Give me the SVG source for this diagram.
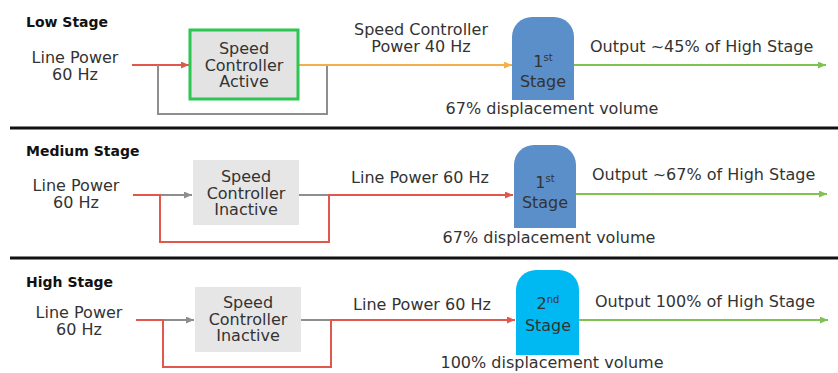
<svg xmlns="http://www.w3.org/2000/svg" width="838" height="373" viewBox="0 0 838 373">
<defs>
<style>
text{font-family:"DejaVu Sans","Liberation Sans",sans-serif;font-size:16px;fill:#333;}
.t{font-weight:bold;font-size:14px;fill:#111;}
.c{text-anchor:middle;}
.sup{font-size:10px;}
.red{stroke:#e0584b;stroke-width:2;fill:none;}
.gray{stroke:#8e8e8e;stroke-width:2;fill:none;}
.org{stroke:#f3b04a;stroke-width:2;fill:none;}
.grn{stroke:#80c251;stroke-width:2;fill:none;}
.sep{stroke:#111;stroke-width:3;}
.box{fill:#e6e6e6;}
</style>
<marker id="aR" markerUnits="userSpaceOnUse" markerWidth="8" markerHeight="7" refX="8" refY="3.5" orient="auto"><path d="M0,0 L8,3.5 L0,7 z" fill="#e0584b"/></marker>
<marker id="aG" markerUnits="userSpaceOnUse" markerWidth="8" markerHeight="7" refX="8" refY="3.5" orient="auto"><path d="M0,0 L8,3.5 L0,7 z" fill="#8e8e8e"/></marker>
<marker id="aO" markerUnits="userSpaceOnUse" markerWidth="8" markerHeight="7" refX="8" refY="3.5" orient="auto"><path d="M0,0 L8,3.5 L0,7 z" fill="#f3b04a"/></marker>
<marker id="aN" markerUnits="userSpaceOnUse" markerWidth="8" markerHeight="7" refX="8" refY="3.5" orient="auto"><path d="M0,0 L8,3.5 L0,7 z" fill="#80c251"/></marker>
</defs>
<rect width="838" height="373" fill="#fff"/>
<g id="separators">
<line class="sep" x1="10" y1="128" x2="838" y2="128"/>
<line class="sep" x1="10" y1="258" x2="838" y2="258"/>
</g>
<g id="connectors">
<path class="red" d="M132,65 H189" marker-end="url(#aR)"/>
<path class="gray" d="M158,65 V114 H327 V65"/>
<path class="org" d="M299,65 H512" marker-end="url(#aO)"/>
<path class="grn" d="M574,65 H826" marker-end="url(#aN)"/>
<path class="gray" d="M160,195 H192" marker-end="url(#aG)"/>
<path class="gray" d="M299,195 H329"/>
<path class="red" d="M133,195 H160 V242 H329 V195 H513" marker-end="url(#aR)"/>
<path class="grn" d="M576,194 H827" marker-end="url(#aN)"/>
<path class="gray" d="M163,320 H194" marker-end="url(#aG)"/>
<path class="gray" d="M301,320 H331"/>
<path class="red" d="M136,320 H163 V367 H331 V320 H515" marker-end="url(#aR)"/>
<path class="grn" d="M579,320 H828" marker-end="url(#aN)"/>
</g>
<g id="low">
<text class="t" x="26" y="27">Low Stage</text>
<g id="low-input"><text class="c" x="75" y="63">Line Power</text><text class="c" x="75" y="80">60 Hz</text></g>
<g id="low-controller">
<rect x="190" y="30" width="108" height="69" fill="#e3e3e3" stroke="#2dc653" stroke-width="3"/>
<text class="c" x="244" y="54">Speed</text><text class="c" x="244" y="71">Controller</text><text class="c" x="244" y="87">Active</text>
</g>
<text class="c" x="421" y="35">Speed Controller</text><text class="c" x="421" y="52">Power 40 Hz</text>
<g id="low-stage">
<path d="M512,100 V37 A20,20 0 0 1 532,17 H554 A20,20 0 0 1 574,37 V100 Z" fill="#5b8fc9"/>
<text class="c" x="543" y="67" fill="#222">1<tspan class="sup" dy="-6">st</tspan></text>
<text class="c" x="543" y="87">Stage</text>
</g>
<text class="c" x="552" y="114">67% displacement volume</text>
<text x="590" y="52">Output ~45% of High Stage</text>
</g>
<g id="medium">
<text class="t" x="26" y="156">Medium Stage</text>
<g id="med-input"><text class="c" x="76" y="191">Line Power</text><text class="c" x="76" y="208">60 Hz</text></g>
<g id="med-controller">
<rect class="box" x="193" y="160" width="106" height="65"/>
<text class="c" x="246" y="182">Speed</text><text class="c" x="246" y="199">Controller</text><text class="c" x="246" y="215">Inactive</text>
</g>
<text class="c" x="420" y="183">Line Power 60 Hz</text>
<g id="med-stage">
<path d="M514,228 V165 A20,20 0 0 1 534,145 H556 A20,20 0 0 1 576,165 V228 Z" fill="#5b8fc9"/>
<text class="c" x="545" y="188">1<tspan class="sup" dy="-6">st</tspan></text>
<text class="c" x="545" y="208">Stage</text>
</g>
<text class="c" x="549" y="243">67% displacement volume</text>
<text x="592" y="180">Output ~67% of High Stage</text>
</g>
<g id="high">
<text class="t" x="26" y="287">High Stage</text>
<g id="high-input"><text class="c" x="79" y="318">Line Power</text><text class="c" x="79" y="335">60 Hz</text></g>
<g id="high-controller">
<rect class="box" x="195" y="287" width="106" height="65"/>
<text class="c" x="248" y="308">Speed</text><text class="c" x="248" y="325">Controller</text><text class="c" x="248" y="341">Inactive</text>
</g>
<text class="c" x="422" y="310">Line Power 60 Hz</text>
<g id="high-stage">
<path d="M516,355 V290 A20,20 0 0 1 536,270 H559 A20,20 0 0 1 579,290 V355 Z" fill="#00b9f2"/>
<text class="c" x="548" y="309">2<tspan class="sup" dy="-6">nd</tspan></text>
<text class="c" x="548" y="331">Stage</text>
</g>
<text class="c" x="552" y="368">100% displacement volume</text>
<text x="595" y="307">Output 100% of High Stage</text>
</g>
</svg>
